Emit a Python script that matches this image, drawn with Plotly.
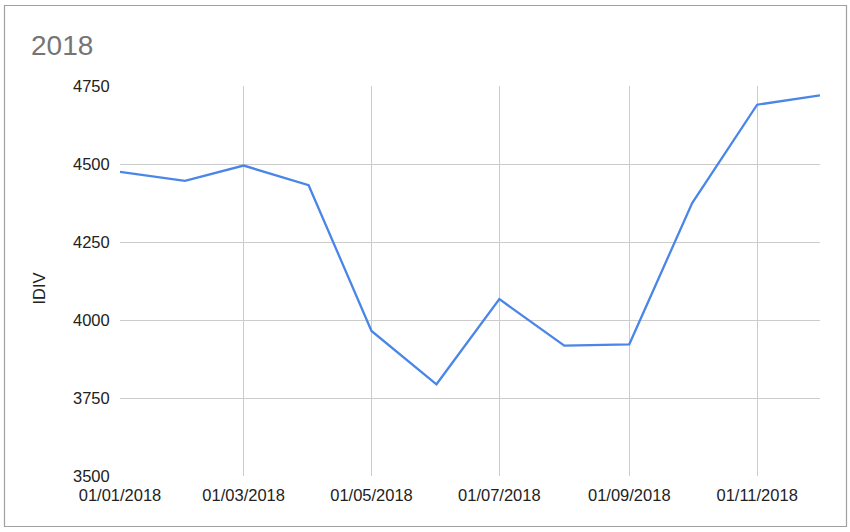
import plotly.graph_objects as go

months = ["2018-01-01", "2018-02-01", "2018-03-01", "2018-04-01", "2018-05-01", "2018-06-01",
          "2018-07-01", "2018-08-01", "2018-09-01", "2018-10-01", "2018-11-01", "2018-12-01"]
idiv = [4475, 4446, 4495, 4432, 3965, 3794, 4067, 3918, 3922, 4375, 4690, 4720]

tick_dates = ["2018-01-01", "2018-03-01", "2018-05-01", "2018-07-01", "2018-09-01", "2018-11-01"]
tick_labels = ["01/01/2018", "01/03/2018", "01/05/2018", "01/07/2018", "01/09/2018", "01/11/2018"]
y_ticks = [3500, 3750, 4000, 4250, 4500, 4750]

fig = go.Figure()
fig.add_trace(go.Scatter(x=months, y=idiv, mode="lines",
                         line=dict(color="#4a86e8", width=2.3), showlegend=False))

W, H = 850, 532
L, R, T, B = 120, 30, 86, 56
pw, ph = W - L - R, H - T - B

def px_x(v):
    return (v - L) / pw

def px_y(v):
    return (H - B - v) / ph

fig.add_shape(type="rect", xref="paper", yref="paper",
              x0=px_x(4.5), x1=px_x(846.5), y0=px_y(526.5), y1=px_y(5.5),
              line=dict(color="#a0a0a0", width=1.2), fillcolor="rgba(0,0,0,0)", layer="below")

fig.add_annotation(text="IDIV", xref="paper", yref="paper", x=px_x(38.5), y=px_y(289),
                   textangle=-90, showarrow=False, xanchor="center", yanchor="middle",
                   font=dict(size=16.5, color="#222222"))

FONT = "Arial, Liberation Sans, sans-serif"
fig.update_layout(
    width=W, height=H,
    margin=dict(l=L, r=R, t=T, b=B),
    paper_bgcolor="white", plot_bgcolor="white",
    font=dict(family=FONT, color="#222222", size=16.5),
    title=dict(text="2018", x=31 / W, xanchor="left", y=1 - 45 / H, yanchor="middle",
               font=dict(size=28, color="#757575")),
    xaxis=dict(range=["2018-01-01", "2018-12-01"], tickvals=tick_dates, ticktext=tick_labels,
               showgrid=True, gridcolor="#cccccc", gridwidth=1, zeroline=False,
               showline=False, ticks="outside", ticklen=4, tickcolor="rgba(0,0,0,0)",
               tickfont=dict(size=16.5, color="#222222")),
    yaxis=dict(range=[3500, 4750], tickvals=y_ticks, showgrid=True, gridcolor="#cccccc",
               gridwidth=1, zeroline=False, showline=False, ticks="outside", ticklen=6,
               tickcolor="rgba(0,0,0,0)", tickfont=dict(size=16.5, color="#222222")),
)

fig.write_html("out.html", config={"displayModeBar": False},
               post_script="document.body.style.margin='0px';")
